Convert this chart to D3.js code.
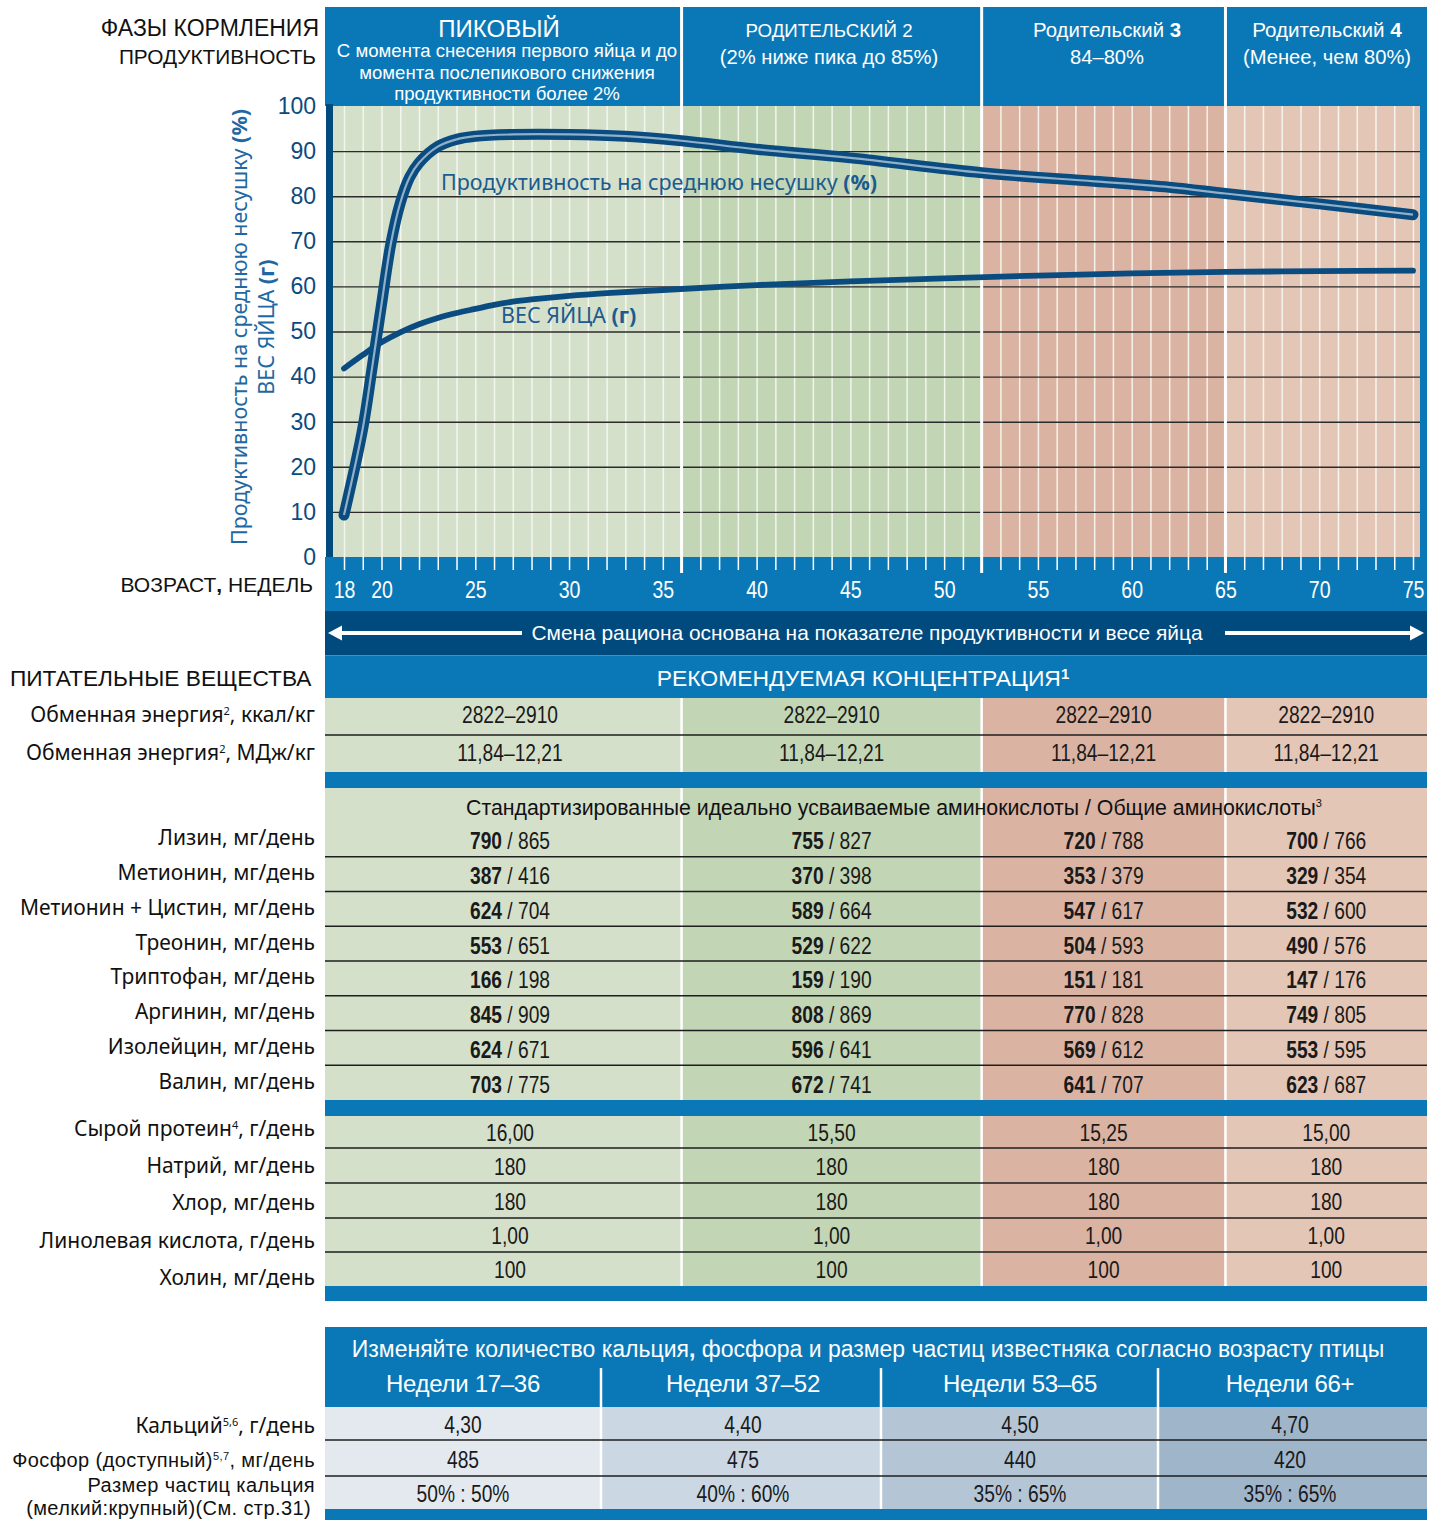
<!DOCTYPE html>
<html><head><meta charset="utf-8">
<script src="https://cdn.jsdelivr.net/npm/d3@7"></script>
<style>body{margin:0;background:#fff}svg{display:block}</style>
</head><body>
<svg id="c" width="1430" height="1520"></svg>
<script>
// ---------------- DATA ----------------
const prodWeeks  = [18, 19, 19.5, 20, 20.5, 21, 21.5, 22, 23, 24, 25, 27, 30, 33, 36, 40, 45, 52, 58, 62, 65, 70, 75];
const production = [9.3, 28.5, 42, 56, 69.5, 78.5, 84.2, 87.4, 91.0, 92.6, 93.3, 93.7, 93.7, 93.3, 92.3, 90.4, 88.5, 85.2, 83.3, 82.0, 80.6, 78.3, 75.9];
const eggWeeks   = [18, 19, 20, 21, 22, 23, 24, 25, 26, 27, 28, 30, 32, 35, 40, 45, 50, 55, 60, 65, 70, 75];
const eggWeight  = [41.8, 44.8, 47.6, 49.8, 51.6, 53.0, 54.1, 55.0, 55.9, 56.6, 57.1, 57.9, 58.5, 59.2, 60.3, 61.1, 61.8, 62.4, 62.9, 63.2, 63.4, 63.5];
const yTicks     = [0, 10, 20, 30, 40, 50, 60, 70, 80, 90, 100];
const xTickLabels = [18, 20, 25, 30, 35, 40, 45, 50, 55, 60, 65, 70, 75];
const phaseBounds = [36, 52, 65];
const phaseTitles = ["ПИКОВЫЙ", "РОДИТЕЛЬСКИЙ 2", "Родительский ", "Родительский "];
const phaseNumbers = ["", "", "3", "4"];
const phaseSubtitles = [
  ["С момента снесения первого яйца и до", "момента послепикового снижения", "продуктивности более 2%"],
  ["(2% ниже пика до 85%)"],
  ["84–80%"],
  ["(Менее, чем 80%)"]
];
const energyKcal = ["2822–2910", "2822–2910", "2822–2910", "2822–2910"];
const energyMJ   = ["11,84–12,21", "11,84–12,21", "11,84–12,21", "11,84–12,21"];
const aminoNames = ["Лизин, мг/день", "Метионин, мг/день", "Метионин + Цистин, мг/день", "Треонин, мг/день",
                    "Триптофан, мг/день", "Аргинин, мг/день", "Изолейцин, мг/день", "Валин, мг/день"];
const aminoDigestible = [[790, 755, 720, 700], [387, 370, 353, 329], [624, 589, 547, 532], [553, 529, 504, 490],
                         [166, 159, 151, 147], [845, 808, 770, 749], [624, 596, 569, 553], [703, 672, 641, 623]];
const aminoTotal = [[865, 827, 788, 766], [416, 398, 379, 354], [704, 664, 617, 600], [651, 622, 593, 576],
                    [198, 190, 181, 176], [909, 869, 828, 805], [671, 641, 612, 595], [775, 741, 707, 687]];
const otherNames = [["Сырой протеин", "4", ", г/день"], ["Натрий, мг/день", "", ""], ["Хлор, мг/день", "", ""],
                    ["Линолевая кислота, г/день", "", ""], ["Холин, мг/день", "", ""]];
const otherValues = [["16,00", "15,50", "15,25", "15,00"], ["180", "180", "180", "180"], ["180", "180", "180", "180"],
                     ["1,00", "1,00", "1,00", "1,00"], ["100", "100", "100", "100"]];
const calciumPeriods = ["Недели 17–36", "Недели 37–52", "Недели 53–65", "Недели 66+"];
const calcium    = ["4,30", "4,40", "4,50", "4,70"];
const phosphorus = ["485", "475", "440", "420"];
const particle   = ["50% : 50%", "40% : 60%", "35% : 65%", "35% : 65%"];

// ---------------- STYLE ----------------
const F = "'Liberation Sans', Arial, sans-serif";
const FN = "'Noto Sans', 'Open Sans', sans-serif";
const BLUE = "#0a78b7", NAVY = "#014a7e", LINE = "#0b4c80";
const colFill = ["#d5e0cb", "#c2d5b4", "#dbb3a2", "#e4c6b6"];
const calFill = ["#e4e9f0", "#cbd7e3", "#b4c6d6", "#9fb5ca"];

const svg = d3.select("#c");
const x = d3.scaleLinear().domain([18, 75]).range([344, 1413]);
const y = d3.scaleLinear().domain([0, 100]).range([557, 106]);
const L = 325, R = 1427, plotL = 333, plotR = 1420, plotT = 106, plotB = 557;
const colEdges = [L, x(36), x(52), x(65), R];
const colCenters = [510, (x(36) + x(52)) / 2, (x(52) + x(65)) / 2, (x(65) + R) / 2];

function txt(g, px, py, anchor, size, fill, weight, fam) {
  return g.append("text").attr("x", px).attr("y", py).attr("text-anchor", anchor)
    .attr("font-family", fam || F).attr("font-size", size).attr("fill", fill || "#111")
    .attr("font-weight", weight || "normal");
}
function ctext(g, px, py, size, fill, sx) {
  return g.append("text").attr("transform", `translate(${px},${py}) scale(${sx || 0.8},1)`)
    .attr("text-anchor", "middle").attr("font-family", F).attr("font-size", size).attr("fill", fill || "#1a1a1a");
}

// ---------------- HEADER ----------------
svg.append("rect").attr("x", L).attr("y", 7).attr("width", R - L).attr("height", plotT - 7).attr("fill", BLUE);
txt(svg, 319, 36, "end", 23).text("ФАЗЫ КОРМЛЕНИЯ");
txt(svg, 316, 64, "end", 20.8).text("ПРОДУКТИВНОСТЬ");
const hx = [499, 829, 1107, 1327];
const hSize = [24, 18.7, 20.4, 20.6];
phaseTitles.forEach((t, i) => {
  const e = txt(svg, hx[i], 37, "middle", hSize[i], "#fff");
  e.append("tspan").text(t);
  if (phaseNumbers[i]) e.append("tspan").attr("font-weight", "bold").text(phaseNumbers[i]);
  phaseSubtitles[i].forEach((s, j) => {
    if (i === 0) txt(svg, 507, 57 + j * 21.5, "middle", 18.6, "#fff").text(s);
    else txt(svg, hx[i], 64, "middle", 20.2, "#fff").text(s);
  });
});

// ---------------- PLOT ----------------
const plotEdges = [plotL, x(36), x(52), x(65), plotR];
colFill.forEach((c, i) => svg.append("rect").attr("x", plotEdges[i]).attr("y", plotT)
  .attr("width", plotEdges[i + 1] - plotEdges[i]).attr("height", plotB - plotT).attr("fill", c));
svg.append("rect").attr("x", plotR).attr("y", plotT).attr("width", R - plotR).attr("height", plotB - plotT).attr("fill", BLUE);

// x axis band
svg.append("rect").attr("x", L).attr("y", plotB).attr("width", R - L).attr("height", 611 - plotB).attr("fill", BLUE);

// weekly vertical lines (grid)
const vgrid = svg.append("g").attr("transform", `translate(0,${plotB})`)
  .call(d3.axisBottom(x).tickValues(d3.range(18, 76)).tickSize(-(plotB - plotT)).tickFormat(""));
vgrid.select(".domain").remove();
vgrid.selectAll("line").attr("stroke", "#f6f8f3").attr("stroke-width", 1.5).attr("stroke-opacity", 0.9);

// horizontal gridlines
const hgrid = svg.append("g").attr("transform", `translate(${plotL},0)`)
  .call(d3.axisLeft(y).tickValues(yTicks.filter(d => d > 0 && d < 100)).tickSize(-(plotR - plotL)).tickFormat(""));
hgrid.select(".domain").remove();
hgrid.selectAll("line").attr("stroke", "#2b2b2b").attr("stroke-width", 1.4);

// x axis ticks + labels
const xa = svg.append("g").attr("transform", `translate(0,${plotB})`)
  .call(d3.axisBottom(x).tickValues(d3.range(18, 76)).tickSize(13).tickPadding(12)
    .tickFormat(d => xTickLabels.includes(d) ? d : ""));
xa.select(".domain").remove();
xa.selectAll("line").attr("stroke", "#fff").attr("stroke-width", 1.5);
xa.selectAll("text").attr("fill", "#fff").attr("font-family", F).attr("font-size", 23)
  .attr("transform", "scale(0.85,1)");

// phase boundaries
phaseBounds.forEach(b => svg.append("line").attr("x1", x(b)).attr("x2", x(b)).attr("y1", 7).attr("y2", 573)
  .attr("stroke", "#fff").attr("stroke-width", 3));

// y axis bar + labels
svg.append("rect").attr("x", 326).attr("y", plotT - 2).attr("width", 7).attr("height", plotB - plotT + 2).attr("fill", NAVY);
const ya = svg.append("g").attr("transform", "translate(326,0)")
  .call(d3.axisLeft(y).tickValues(yTicks).tickSize(0).tickPadding(10));
ya.select(".domain").remove();
ya.selectAll("text").attr("fill", "#0d4a7e").attr("font-family", F).attr("font-size", 23);

txt(svg, 313, 592, "end", 21).call(t => { t.append("tspan").text("ВОЗРАСТ"); t.append("tspan").attr("font-weight", "bold").text(","); t.append("tspan").text(" НЕДЕЛЬ"); });

// axis title (rotated)
const at = svg.append("g").attr("transform", "translate(247,327) rotate(-90)");
txt(at, 0, 0, "middle", 21.5, "#1f68a3", null, FN).call(t => { t.append("tspan").text("Продуктивность на среднюю несушку "); t.append("tspan").attr("font-weight", "bold").text("(%)"); });
txt(at, 0, 27, "middle", 21.5, "#1f68a3", null, FN).call(t => { t.append("tspan").text("ВЕС ЯЙЦА "); t.append("tspan").attr("font-weight", "bold").text("(г)"); });

// curves
const lineP = d3.line().x(d => x(d[0])).y(d => y(d[1])).curve(d3.curveCatmullRom.alpha(0.5));
const pData = prodWeeks.map((w, i) => [w, production[i]]);
const eData = eggWeeks.map((w, i) => [w, eggWeight[i]]);
svg.append("path").attr("d", lineP(eData)).attr("fill", "none").attr("stroke", LINE).attr("stroke-width", 5.8).attr("stroke-linecap", "round");
svg.append("path").attr("d", lineP(pData)).attr("fill", "none").attr("stroke", LINE).attr("stroke-width", 11).attr("stroke-linecap", "round");
svg.append("path").attr("d", lineP(pData)).attr("fill", "none").attr("stroke", "#8fb0c8").attr("stroke-width", 2.2);

txt(svg, 441, 190, "start", 21.5, "#1b5b8f", null, FN).call(t => { t.append("tspan").text("Продуктивность на среднюю несушку "); t.append("tspan").attr("font-weight", "bold").text("(%)"); });
txt(svg, 501, 323, "start", 21.5, "#1b5b8f", null, FN).call(t => { t.append("tspan").text("ВЕС ЯЙЦА "); t.append("tspan").attr("font-weight", "bold").text("(г)"); });

// ---------------- ARROW BAND ----------------
svg.append("rect").attr("x", L).attr("y", 611).attr("width", R - L).attr("height", 44.5).attr("fill", NAVY);
svg.append("line").attr("x1", 338).attr("x2", 522).attr("y1", 633).attr("y2", 633).attr("stroke", "#fff").attr("stroke-width", 4);
svg.append("path").attr("d", "M328,633 L342,625.5 L342,640.5 Z").attr("fill", "#fff");
svg.append("line").attr("x1", 1225).attr("x2", 1412).attr("y1", 633).attr("y2", 633).attr("stroke", "#fff").attr("stroke-width", 4);
svg.append("path").attr("d", "M1424,633 L1410,625.5 L1410,640.5 Z").attr("fill", "#fff");
txt(svg, 867, 640, "middle", 20.9, "#fff").text("Смена рациона основана на показателе продуктивности и весе яйца");

// ---------------- NUTRIENT TABLE ----------------
svg.append("rect").attr("x", L).attr("y", 655.5).attr("width", R - L).attr("height", 42.5).attr("fill", BLUE);
txt(svg, 863, 686, "middle", 22.9, "#fff").call(t => { t.append("tspan").text("РЕКОМЕНДУЕМАЯ КОНЦЕНТРАЦИЯ"); t.append("tspan").attr("font-size", 15).attr("dy", -7).attr("font-weight", "bold").text("1"); });
txt(svg, 10, 686, "start", 22.7).text("ПИТАТЕЛЬНЫЕ ВЕЩЕСТВА");

function colBlock(y0, y1, fills) {
  fills.forEach((c, i) => svg.append("rect").attr("x", colEdges[i]).attr("y", y0)
    .attr("width", colEdges[i + 1] - colEdges[i]).attr("height", y1 - y0).attr("fill", c));
  [1, 2, 3].forEach(i => svg.append("line").attr("x1", colEdges[i]).attr("x2", colEdges[i]).attr("y1", y0).attr("y2", y1)
    .attr("stroke", "#fff").attr("stroke-width", 2.5));
}
function hline(yy, x0, x1) {
  svg.append("line").attr("x1", x0 || L).attr("x2", x1 || R).attr("y1", yy).attr("y2", yy).attr("stroke", "#1e1e1e").attr("stroke-width", 1.4);
}
function label(yy, parts, size, fam, ls) {
  const t = txt(svg, 315, yy, "end", size || 21, "#111", null, fam || FN);
  if (ls) t.attr("letter-spacing", ls);
  t.append("tspan").text(parts[0]);
  if (parts[1]) t.append("tspan").attr("font-size", 11).attr("dy", -7).text(parts[1]);
  if (parts[2]) t.append("tspan").attr("dy", parts[1] ? 7 : 0).text(parts[2]);
}

// energy
colBlock(698, 772, colFill);
hline(735);
label(722, ["Обменная энергия", "2", ", ккал/кг"]);
label(760, ["Обменная энергия", "2", ", МДж/кг"]);
energyKcal.forEach((v, i) => ctext(svg, colCenters[i], 723, 24).text(v));
energyMJ.forEach((v, i) => ctext(svg, colCenters[i], 761, 24).text(v));
svg.append("rect").attr("x", L).attr("y", 772).attr("width", R - L).attr("height", 16).attr("fill", BLUE);

// amino acids
const aTop = 822, aH = 34.75;
colBlock(788, 1100, colFill);
txt(svg, 894, 815, "middle", 21.3).call(t => { t.append("tspan").text("Стандартизированные идеально усваиваемые аминокислоты / Общие аминокислоты"); t.append("tspan").attr("font-size", 11).attr("dy", -8).text("3"); });
aminoNames.forEach((n, r) => {
  const cy = aTop + aH * r + aH / 2;
  label(cy + 6, [n]);
  if (r > 0) hline(aTop + aH * r);
  aminoDigestible[r].forEach((v, i) => {
    const t = ctext(svg, colCenters[i], cy + 10, 24);
    t.append("tspan").attr("font-weight", "bold").text(v);
    t.append("tspan").text(" / " + aminoTotal[r][i]);
  });
});
svg.append("rect").attr("x", L).attr("y", 1100).attr("width", R - L).attr("height", 16).attr("fill", BLUE);

// other nutrients
const oTops = [1116, 1148, 1183, 1218, 1252, 1286];
colBlock(1116, 1286, colFill);
otherNames.forEach((n, r) => {
  if (r > 0) hline(oTops[r]);
  label(1136 + r * 37.2, n);
  otherValues[r].forEach((v, i) => ctext(svg, colCenters[i], (oTops[r] + oTops[r + 1]) / 2 + 9, 24).text(v));
});
svg.append("rect").attr("x", L).attr("y", 1286).attr("width", R - L).attr("height", 15).attr("fill", BLUE);

// ---------------- CALCIUM TABLE ----------------
const cEdges = [L, 601, 881, 1158, R];
const cCenters = [463, 743, 1020, 1290];
svg.append("rect").attr("x", L).attr("y", 1327).attr("width", R - L).attr("height", 80).attr("fill", BLUE);
txt(svg, 868, 1357, "middle", 23, "#fff").call(t => {
  t.append("tspan").text("Изменяйте количество кальция"); t.append("tspan").attr("font-weight", "bold").text(",");
  t.append("tspan").text(" фосфора и размер частиц известняка согласно возрасту птицы");
});
calciumPeriods.forEach((p, i) => txt(svg, cCenters[i], 1392, "middle", 24, "#fff").attr("letter-spacing", -0.3).text(p));
[1, 2, 3].forEach(i => svg.append("line").attr("x1", cEdges[i]).attr("x2", cEdges[i]).attr("y1", 1368).attr("y2", 1407)
  .attr("stroke", "#fff").attr("stroke-width", 2.5));
calFill.forEach((c, i) => svg.append("rect").attr("x", cEdges[i]).attr("y", 1407)
  .attr("width", cEdges[i + 1] - cEdges[i]).attr("height", 1509 - 1407).attr("fill", c));
[1, 2, 3].forEach(i => svg.append("line").attr("x1", cEdges[i]).attr("x2", cEdges[i]).attr("y1", 1407).attr("y2", 1509)
  .attr("stroke", "#fff").attr("stroke-width", 2.5));
hline(1440); hline(1476);
svg.append("rect").attr("x", L).attr("y", 1509).attr("width", R - L).attr("height", 11).attr("fill", BLUE);
calcium.forEach((v, i) => ctext(svg, cCenters[i], 1433, 24).text(v));
phosphorus.forEach((v, i) => ctext(svg, cCenters[i], 1468, 24).text(v));
particle.forEach((v, i) => ctext(svg, cCenters[i], 1502, 24).text(v));
label(1433, ["Кальций", "5,6", ", г/день"]);
label(1467, ["Фосфор (доступный)", "5,7", ", мг/день"], 20, F, 0.4);
label(1491.5, ["Размер частиц кальция"], 20, F, 0.4);
txt(svg, 311, 1515, "end", 20, "#111").attr("letter-spacing", 0.4).text("(мелкий:крупный)(См. стр.31)");
</script>
</body></html>
